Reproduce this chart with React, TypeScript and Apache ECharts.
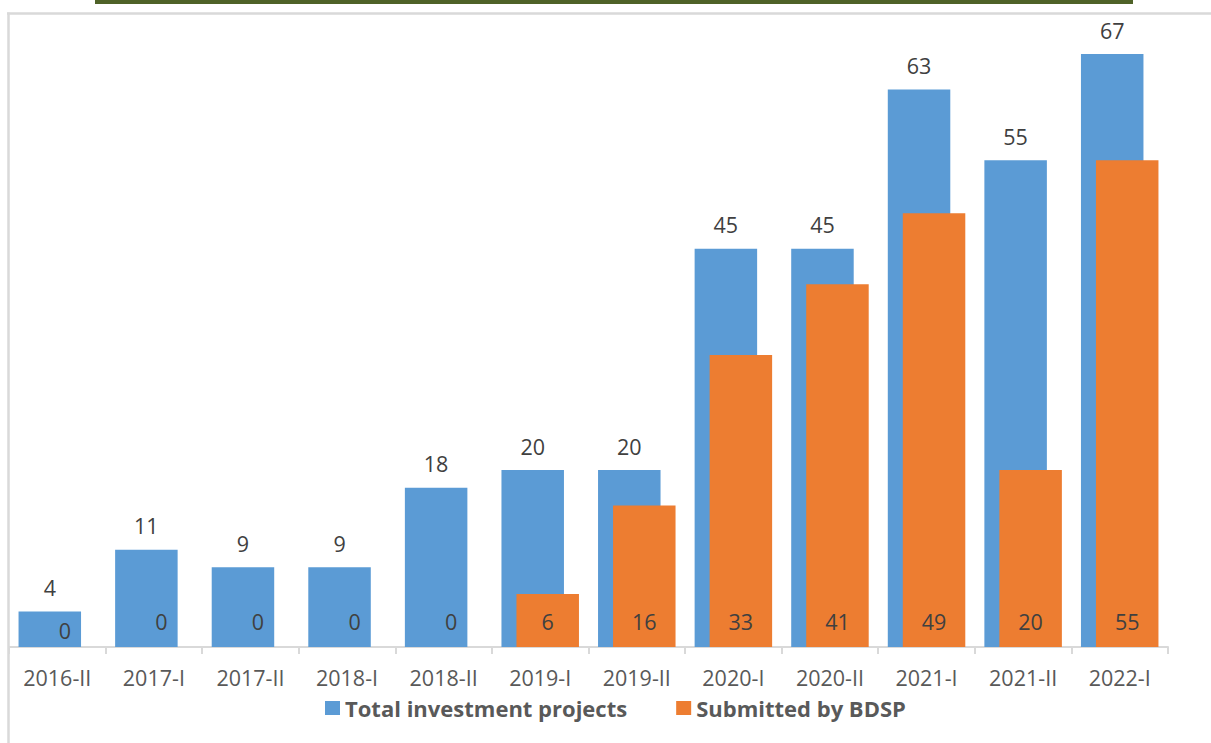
import React, { useEffect, useRef } from "react";
import * as echarts from "echarts";

const categories = ["2016-II", "2017-I", "2017-II", "2018-I", "2018-II", "2019-I", "2019-II", "2020-I", "2020-II", "2021-I", "2021-II", "2022-I"];
const totalProjects = [4, 11, 9, 9, 18, 20, 20, 45, 45, 63, 55, 67];
const submittedByBDSP = [0, 0, 0, 0, 0, 6, 16, 33, 41, 49, 20, 55];
const seriesNames = ["Total investment projects", "Submitted by BDSP"];

const FONT = "'Open Sans', Lato, sans-serif";

export default function App() {
  const ref = useRef<HTMLDivElement>(null);
  useEffect(() => {
    if (!ref.current) return;
    const chart = echarts.init(ref.current, null, { renderer: "svg" });
    chart.setOption({
      animation: false,
      backgroundColor: "#ffffff",
      textStyle: { fontFamily: FONT },
      grid: { left: 9, right: 43, top: 27.5, bottom: 96, containLabel: false },
      legend: {
        data: seriesNames,
        left: 320,
        top: 692,
        itemWidth: 15,
        itemHeight: 14,
        itemGap: 49,
        icon: "rect",
        textStyle: { fontFamily: FONT, fontSize: 22, fontWeight: "bold", color: "#595959" },
      },
      xAxis: {
        type: "category",
        data: categories,
        axisLine: { lineStyle: { color: "#d9d9d9", width: 2 } },
        axisTick: { show: true, length: 7, lineStyle: { color: "#d9d9d9", width: 2 } },
        axisLabel: { color: "#595959", fontSize: 21.5, fontFamily: FONT, margin: 19 },
      },
      yAxis: {
        type: "value",
        min: 0,
        max: 70,
        show: false,
        splitLine: { show: false },
      },
      series: [
        {
          name: seriesNames[0],
          type: "bar",
          data: totalProjects,
          barWidth: 62.5,
          barGap: "-76%",
          itemStyle: { color: "#5b9bd5" },
          label: { show: true, position: "top", distance: 13, color: "#404040", fontSize: 21.5, fontFamily: FONT },
        },
        {
          name: seriesNames[1],
          type: "bar",
          data: submittedByBDSP.map((v, i) =>
            i === 0 ? { value: v, label: { offset: [0, 9] } } : v
          ),
          barWidth: 62.5,
          itemStyle: { color: "#ed7d31" },
          label: { show: true, position: "insideBottom", distance: 15, color: "#404040", fontSize: 21.5, fontFamily: FONT },
        },
      ],
      graphic: [
        { type: "rect", shape: { x: 95, y: 0, width: 1038, height: 4 }, style: { fill: "#4f6228" } },
        { type: "line", shape: { x1: 7, y1: 13.5, x2: 1211, y2: 13.5 }, style: { stroke: "#d9d9d9", lineWidth: 2.5 } },
        { type: "line", shape: { x1: 8.5, y1: 12.5, x2: 8.5, y2: 743 }, style: { stroke: "#d9d9d9", lineWidth: 2.5 } },
      ],
    });
    return () => chart.dispose();
  }, []);
  return (
    <div
      ref={ref}
      style={{ position: "fixed", left: 0, top: 0, width: 1211, height: 743, background: "#fff" }}
    />
  );
}
